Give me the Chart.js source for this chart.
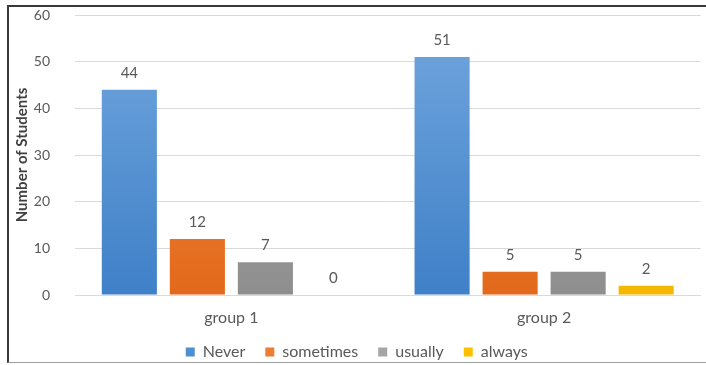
<!DOCTYPE html>
<html>
<head>
<meta charset="utf-8">
<script src="https://cdn.jsdelivr.net/npm/chart.js@4.4.0/dist/chart.umd.min.js"></script>
<style>
  html, body { margin: 0; padding: 0; background: #fff; }
  #wrap { position: relative; width: 706px; height: 365px; }
  #frame {
    position: absolute; left: 7px; top: 5px; width: 699px; height: 358px;
    border-top: 2px solid #3a3a3a; border-left: 2px solid #3a3a3a;
    border-bottom: 1px solid #a0a0a0; box-sizing: border-box; pointer-events: none;
  }
  canvas { position: absolute; left: 0; top: 0; }
</style>
</head>
<body>
<div id="wrap">
  <canvas id="chart" width="706" height="365"></canvas>
  <div id="frame"></div>
</div>
<script>
const groups = ['group 1', 'group 2'];
const seriesNames = ['Never', 'sometimes', 'usually', 'always'];
const neverVals = [44, 51];
const sometimesVals = [12, 5];
const usuallyVals = [7, 5];
const alwaysVals = [0, 2];
const yTicks = [0, 10, 20, 30, 40, 50, 60];

const fontFamily = 'Lato, "Open Sans", sans-serif';
const textColor = '#595959';

// Excel-ish vertical gradients: [top, bottom, legend]
const palette = [
  ['#72a7de', '#3f80c8', '#4f8fd0'],
  ['#f48c45', '#e2691b', '#ed7d31'],
  ['#b0b0b0', '#8e8e8e', '#a5a5a5'],
  ['#ffc820', '#f5b800', '#ffc000']
];

function gradientFor(idx) {
  return function(context) {
    const chart = context.chart;
    const area = chart.chartArea;
    if (!area) return palette[idx][2];
    const g = chart.ctx.createLinearGradient(0, area.top, 0, area.bottom);
    g.addColorStop(0, palette[idx][0]);
    g.addColorStop(1, palette[idx][1]);
    return g;
  };
}

// value labels above each bar
const valueLabels = {
  id: 'valueLabels',
  afterDatasetsDraw(chart) {
    const ctx = chart.ctx;
    ctx.save();
    ctx.font = '15px ' + fontFamily;
    ctx.fillStyle = textColor;
    ctx.textAlign = 'center';
    ctx.textBaseline = 'middle';
    chart.data.datasets.forEach(function(ds, i) {
      chart.getDatasetMeta(i).data.forEach(function(bar, j) {
        ctx.fillText(String(ds.data[j]), bar.x, bar.y - 17);
      });
    });
    ctx.restore();
  }
};

// keep wide legend spacing but a shorter legend box
const legendHeight = {
  id: 'legendHeight',
  beforeInit(chart) {
    const legend = chart.legend;
    if (!legend) return;
    const origFit = legend.fit;
    legend.fit = function() {
      origFit.call(this);
      this.height -= 5;
    };
  }
};

const allVals = [neverVals, sometimesVals, usuallyVals, alwaysVals];

new Chart(document.getElementById('chart').getContext('2d'), {
  type: 'bar',
  data: {
    labels: groups,
    datasets: seriesNames.map(function(name, i) {
      return {
        label: name,
        data: allVals[i],
        backgroundColor: gradientFor(i),
        borderWidth: 0,
        categoryPercentage: 0.87,
        barPercentage: 0.81
      };
    })
  },
  options: {
    responsive: false,
    animation: false,
    layout: { padding: { left: 13, right: 5.5, top: 15, bottom: 0 } },
    plugins: {
      legend: {
        position: 'bottom',
        labels: {
          boxWidth: 9,
          boxHeight: 9,
          padding: 20,
          color: textColor,
          font: { family: fontFamily, size: 16 },
          generateLabels: function(chart) {
            return chart.data.datasets.map(function(ds, i) {
              return {
                text: ds.label,
                fillStyle: palette[i][2],
                strokeStyle: palette[i][2],
                lineWidth: 0,
                fontColor: textColor,
                datasetIndex: i
              };
            });
          }
        }
      },
      tooltip: { enabled: false }
    },
    scales: {
      x: {
        grid: { display: false, drawTicks: false },
        border: { color: '#d9d9d9' },
        ticks: { color: textColor, font: { family: fontFamily, size: 16 }, padding: 13 },
        afterFit: function(axis) {
          axis.height = 29;
          // labels hang a little below the short axis box, don't clip them
          axis._computeLabelArea = function() { return undefined; };
        }
      },
      y: {
        min: 0,
        max: 60,
        afterBuildTicks: function(axis) {
          axis.ticks = yTicks.map(function(v) { return { value: v }; });
        },
        afterFit: function(axis) {
          axis.width = 62;
          axis.paddingTop = 0;
          axis.paddingBottom = 0;
        },
        grid: { color: '#d9d9d9', drawTicks: false },
        border: { display: false },
        ticks: { color: textColor, font: { family: fontFamily, size: 14 }, padding: 25 },
        title: {
          display: true,
          text: 'Number of Students',
          color: '#404040',
          font: { family: fontFamily, size: 15, weight: 'bold' },
          padding: { top: 0, bottom: 0 }
        }
      }
    }
  },
  plugins: [valueLabels, legendHeight]
});
</script>
</body>
</html>
